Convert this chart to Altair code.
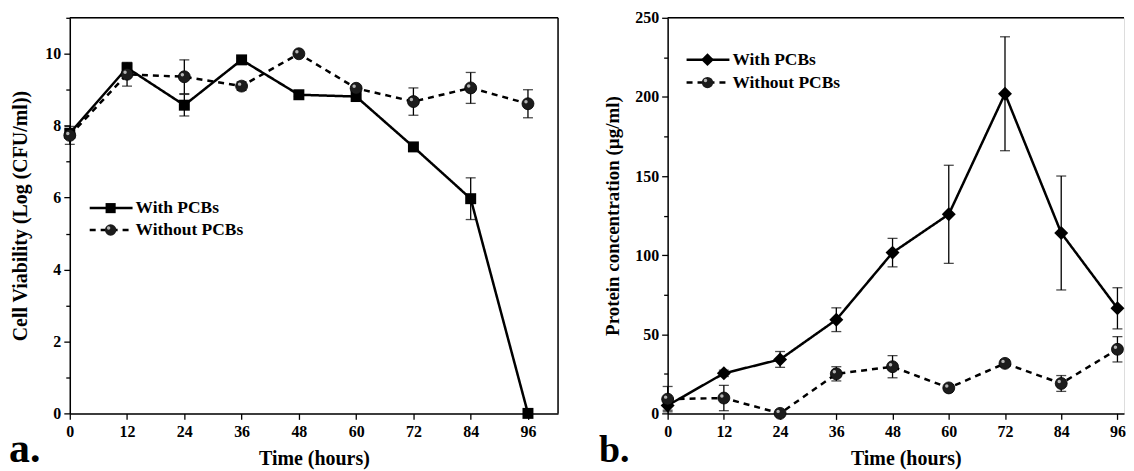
import altair as alt
import pandas as pd

# ---------------- data ----------------
hours = [0, 12, 24, 36, 48, 60, 72, 84, 96]
series_names = ["With PCBs", "Without PCBs"]

# panel a: cell viability
via_with = [7.79, 9.61, 8.57, 9.83, 8.86, 8.81, 7.41, 5.97, 0.0]
via_with_err = [0.10, 0.05, 0.30, 0.05, 0.05, 0.05, 0.08, 0.58, 0.0]
via_without = [7.73, 9.43, 9.36, 9.10, 10.0, 9.04, 8.67, 9.05, 8.61]
via_without_err = [0.25, 0.33, 0.47, 0.12, 0.05, 0.05, 0.38, 0.43, 0.39]

# panel b: protein concentration
prot_with = [5.0, 25.3, 34.1, 59.2, 101.6, 125.8, 202.0, 114.0, 66.4]
prot_with_err = [3, 2, 5, 7.5, 9, 31, 36, 36, 13]
prot_without = [9.0, 9.7, 0.0, 25.0, 29.5, 16.1, 31.6, 18.9, 40.5]
prot_without_err = [8, 8, 0, 4.5, 7, 2, 2, 5, 8]

x_ticks = [0, 12, 24, 36, 48, 60, 72, 84, 96]
y_ticks_a = [0, 1, 2, 3, 4, 5, 6, 7, 8, 9, 10, 11]
y_ticks_b = [0, 25, 50, 75, 100, 125, 150, 175, 200, 225, 250]

FONT = "Liberation Serif"
H = 397


def make_panel(w_vals, w_err, wo_vals, wo_err, w_shape, w_size,
               y_dom, y_ticks, y_major, y_title, y_title_x, y_title_size,
               x_dom, width, height, x_title_x,
               letter, letter_x, letter_size, leg_x, leg_y, leg_gap, right_border):
    df_w = pd.DataFrame({"time": hours, "value": w_vals, "err": w_err,
                         "series": series_names[0]})
    df_wo = pd.DataFrame({"time": hours, "value": wo_vals, "err": wo_err,
                          "series": series_names[1]})

    x_axis = alt.Axis(values=x_ticks, title="Time (hours)", labelFlush=False,
                      labelFont=FONT, labelFontWeight="bold", labelFontSize=16,
                      labelColor="black", labelPadding=4,
                      titleFont=FONT, titleFontWeight="bold", titleFontSize=20,
                      titleColor="black", titleX=x_title_x, titleY=35,
                      titleBaseline="top",
                      domainColor="black", domainWidth=1.5,
                      tickColor="black", tickWidth=1.3, tickSize=6, grid=False)
    y_axis = alt.Axis(values=y_ticks, title=y_title, labelFlush=False,
                      labelOverlap=False,
                      labelExpr=f"datum.value % {y_major} === 0 ? datum.label : ''",
                      labelFont=FONT, labelFontWeight="bold", labelFontSize=16,
                      labelColor="black", labelPadding=3,
                      titleFont=FONT, titleFontWeight="bold", titleFontSize=y_title_size,
                      titleColor="black", titleX=y_title_x, titleY=height / 2,
                      titleBaseline="middle", titleAngle=270,
                      domainColor="black", domainWidth=1.5,
                      tickColor="black", tickWidth=1.3,
                      tickSize={"condition": {"test": f"datum.value % {y_major} === 0",
                                              "value": 6}, "value": 4},
                      grid=False)

    xs = alt.Scale(domain=x_dom, nice=False, zero=False)
    ys = alt.Scale(domain=y_dom, nice=False, zero=False)

    def X(field="time"):
        return alt.X(f"{field}:Q", scale=xs, axis=x_axis)

    def Y(field="value"):
        return alt.Y(f"{field}:Q", scale=ys, axis=y_axis)

    layers = []
    for df, dash in ((df_wo, [6, 5]), (df_w, [1, 0])):
        base = alt.Chart(df).transform_calculate(
            lo="datum.value - datum.err", hi="datum.value + datum.err")
        layers.append(base.mark_rule(color="black", strokeWidth=1.3).encode(
            x=X(), y=Y("lo"), y2="hi:Q"))
        layers.append(base.mark_tick(color="black", orient="horizontal",
                                     size=10, thickness=1.3).encode(x=X(), y=Y("lo")))
        layers.append(base.mark_tick(color="black", orient="horizontal",
                                     size=10, thickness=1.3).encode(x=X(), y=Y("hi")))
        layers.append(alt.Chart(df).mark_line(color="black", strokeWidth=2.5,
                                              strokeDash=dash).encode(x=X(), y=Y()))

    # markers
    layers.append(alt.Chart(df_w).mark_point(shape=w_shape, size=w_size, filled=True,
                                             color="black", opacity=1).encode(x=X(), y=Y()))
    layers.append(alt.Chart(df_wo).mark_point(shape="circle", size=144, filled=True,
                                              color="#1c1c1c", opacity=1,
                                              stroke="black", strokeWidth=0.8).encode(x=X(), y=Y()))
    layers.append(alt.Chart(df_wo).mark_point(shape="circle", size=12, filled=True,
                                              color="#b5b5b5", opacity=1,
                                              xOffset=-2, yOffset=-2).encode(x=X(), y=Y()))

    # frame (top and right borders)
    one = pd.DataFrame({"k": [0]})
    layers.append(alt.Chart(one).mark_rule(color="black", strokeWidth=1.5).encode(
        x=alt.value(0), x2=alt.value(width), y=alt.value(0)))
    if right_border:
        layers.append(alt.Chart(one).mark_rule(color="black", strokeWidth=1.5).encode(
            x=alt.value(width), y=alt.value(0), y2=alt.value(height)))

    # legend (inside plot)
    leg = pd.DataFrame({"name": series_names})
    for i, (name, dash) in enumerate(zip(series_names, ([1, 0], [6, 5]))):
        ly = leg_y + i * leg_gap
        d = leg[leg["name"] == name]
        layers.append(alt.Chart(d).mark_rule(color="black", strokeWidth=2.5,
                                             strokeDash=dash).encode(
            x=alt.value(leg_x), x2=alt.value(leg_x + 43), y=alt.value(ly)))
        if i == 0:
            layers.append(alt.Chart(d).mark_point(shape=w_shape, size=w_size * 0.85,
                                                  filled=True, color="black",
                                                  opacity=1).encode(
                x=alt.value(leg_x + 21), y=alt.value(ly)))
        else:
            layers.append(alt.Chart(d).mark_point(shape="circle", size=130, filled=True,
                                                  color="#1c1c1c", opacity=1).encode(
                x=alt.value(leg_x + 21), y=alt.value(ly)))
            layers.append(alt.Chart(d).mark_point(shape="circle", size=12, filled=True,
                                                  color="#b5b5b5", opacity=1,
                                                  xOffset=-2, yOffset=-2).encode(
                x=alt.value(leg_x + 21), y=alt.value(ly)))
        layers.append(alt.Chart(d).mark_text(align="left", baseline="middle",
                                             font=FONT, fontWeight="bold",
                                             fontSize=17.5, color="black").encode(
            x=alt.value(leg_x + 46), y=alt.value(ly), text="name:N"))

    # panel letter
    lab = pd.DataFrame({"letter": [letter]})
    layers.append(alt.Chart(lab).mark_text(align="left", baseline="alphabetic",
                                           font=FONT, fontWeight="bold",
                                           fontSize=letter_size, color="black").encode(
        x=alt.value(letter_x), y=alt.value(height + 49), text="letter:N"))

    return alt.layer(*layers).properties(width=width, height=height)


panel_a = make_panel(via_with, via_with_err, via_without, via_without_err,
                     "square", 121, [0, 11], y_ticks_a, 2,
                     "Cell Viability (Log (CFU/ml))", -49.5, 20,
                     [0, 102.3], 490, H, 245,
                     "a.", -61, 42, 20, 191, 22, True)

panel_b = make_panel(prot_with, prot_with_err, prot_without, prot_without_err,
                     "diamond", 196, [0, 250], y_ticks_b, 50,
                     "Protein concentration (µg/ml)", -55, 19,
                     [0, 97.4], 458, H, 239,
                     "b.", -69, 38, 19, 42, 23, False)

chart = alt.hconcat(panel_a, panel_b, spacing=38).properties(
    padding={"left": 0, "top": 0, "right": 0, "bottom": 0}
).configure_view(stroke=None).configure(background="white")

chart.save("out.html", embed_options={"renderer": "svg", "actions": False})
